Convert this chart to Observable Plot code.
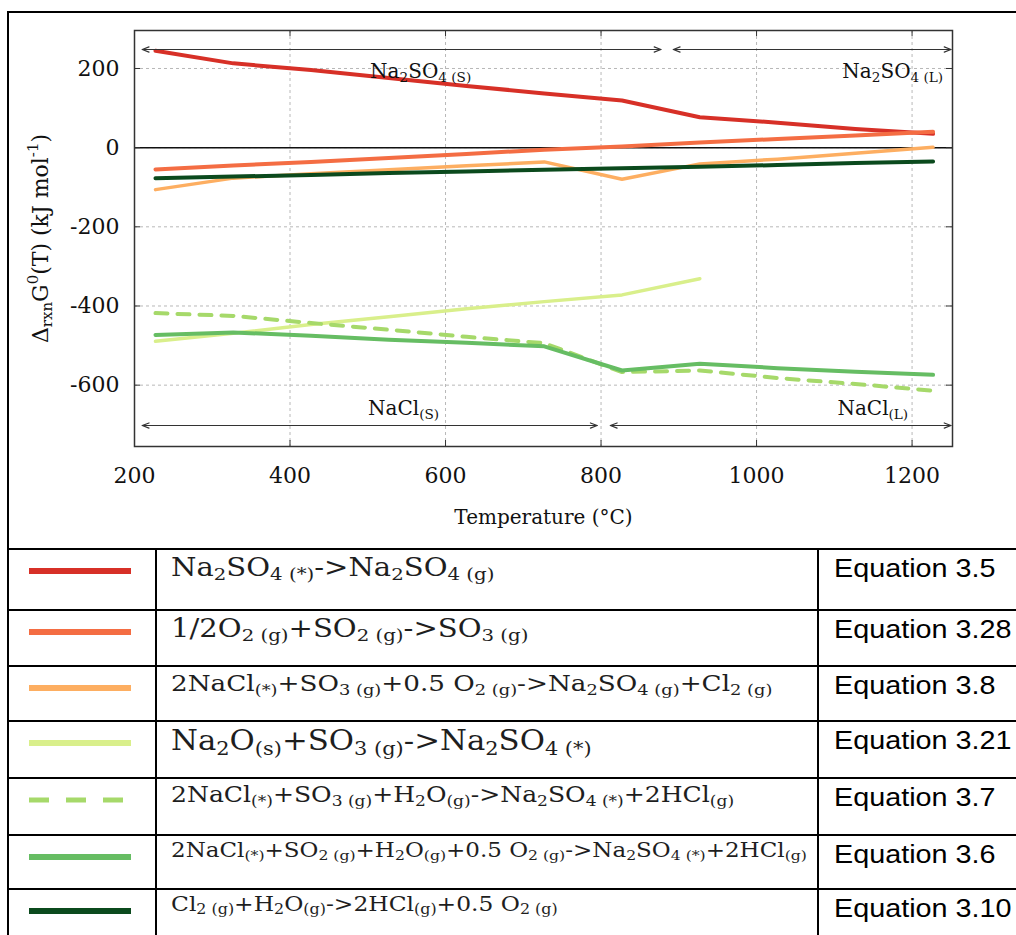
<!DOCTYPE html>
<html>
<head>
<meta charset="utf-8">
<script src="https://cdn.jsdelivr.net/npm/d3@7"></script>
<script src="https://cdn.jsdelivr.net/npm/@observablehq/plot@0.6"></script>
<style>
  body { margin: 0; background: #fff; }
  #page { position: relative; width: 1016px; height: 935px; overflow: hidden; background: #fff; }
  #box { position: absolute; left: 7px; top: 11px; width: 1040px; height: 537px; border: 2px solid #000; border-bottom: none; }
  #chart { position: absolute; left: 0; top: 0; }
  #legend { position: absolute; left: 7px; top: 548px; width: 1060px; border-collapse: collapse; table-layout: fixed; }
  #legend td { border: 2px solid #000; vertical-align: top; padding: 0; }
  #legend td.swatch svg { display: block; margin: 16px 0 0 20px; }
  #legend td.eq { padding: 3px 0 0 14px; font-family: "DejaVu Serif", serif; color: #1e1e1e; white-space: nowrap; line-height: 1.15; }
  #legend td.eq span.txt { display: inline-block; transform: scaleX(1.14); transform-origin: 0 0; }
  #legend td.eq sub { font-size: 0.68em; vertical-align: -0.25em; line-height: 0; }
  #legend td.eq sup { font-size: 0.68em; vertical-align: 0.45em; line-height: 0; }
  #legend td.num { padding: 4px 0 0 15px; font-family: "Liberation Sans", Arial, sans-serif; font-size: 25px; color: #000; white-space: nowrap; line-height: 1.15; }
  #legend td.num span { display: inline-block; transform: scaleX(1.15); transform-origin: 0 0; }
</style>
</head>
<body>
<div id="page">
  <div id="box"></div>
  <div id="chart"></div>
  <table id="legend"></table>
</div>
<script>
// Temperatures (°C) at which the standard Gibbs energies of reaction were evaluated
const temperatureC = [227, 327, 427, 527, 627, 727, 827, 927, 1027, 1127, 1227];

// ΔrxnG°(T), kJ/mol, one array per reaction
const eq3_5  = [245, 213, 196, 176, 156, 137, 119, 77, 63, 47, 35];
const eq3_28 = [-55, -45, -36, -26, -16, -5, 3, 13, 22, 31, 40];
const eq3_8  = [-106, -77, -66, -56, -46, -36, -80, -41, -29, -14, 1];
const eq3_21 = [-489, -469, -447, -427, -407, -389, -372, -331];
const eq3_7  = [-418, -425, -443, -460, -478, -494, -567, -563, -582, -597, -614];
const eq3_6  = [-473, -467, -475, -485, -493, -502, -563, -546, -557, -566, -574];
const eq3_10 = [-77, -73, -69, -64, -60, -56, -52, -48, -44, -39, -35];

// Reaction equations (_{} = subscript) and their numbers, in legend order
const equationLabels = [
  "Na_{2}SO_{4 (*)}->Na_{2}SO_{4 (g)}",
  "1/2O_{2 (g)}+SO_{2 (g)}->SO_{3 (g)}",
  "2NaCl_{(*)}+SO_{3 (g)}+0.5 O_{2 (g)}->Na_{2}SO_{4 (g)}+Cl_{2 (g)}",
  "Na_{2}O_{(s)}+SO_{3 (g)}->Na_{2}SO_{4 (*)}",
  "2NaCl_{(*)}+SO_{3 (g)}+H_{2}O_{(g)}->Na_{2}SO_{4 (*)}+2HCl_{(g)}",
  "2NaCl_{(*)}+SO_{2 (g)}+H_{2}O_{(g)}+0.5 O_{2 (g)}->Na_{2}SO_{4 (*)}+2HCl_{(g)}",
  "Cl_{2 (g)}+H_{2}O_{(g)}->2HCl_{(g)}+0.5 O_{2 (g)}"
];
const equationNumbers = ["Equation 3.5", "Equation 3.28", "Equation 3.8", "Equation 3.21", "Equation 3.7", "Equation 3.6", "Equation 3.10"];
const seriesValues = [eq3_5, eq3_28, eq3_8, eq3_21, eq3_7, eq3_6, eq3_10];

// Phase regions (°C) of Na2SO4 (top) and NaCl (bottom), with their labels
const phaseLabels = ["Na_{2}SO_{4 (S)}", "Na_{2}SO_{4 (L)}", "NaCl_{(S)}", "NaCl_{(L)}"];
const na2so4Ranges = [[210, 877], [893, 1250]];
const naclRanges = [[210, 795], [812, 1250]];

// Axis ticks and titles
const xTicks = [200, 400, 600, 800, 1000, 1200];
const yTicks = [200, 0, -200, -400, -600];
const xTitle = "Temperature (°C)";
const yTitle = "Δ_{rxn}G^{0}(T) (kJ mol^{-1})";

// ---- styling ----
const colors = ["#d73027", "#f46d43", "#fdae61", "#d9ef8b", "#a6d96a", "#66bd63", "#0b4a1d"];
const dashes = [null, null, null, null, "12,10", null, null];
const widths = [4, 4, 3.5, 3.5, 4, 4, 4];
const drawOrder = [3, 4, 5, 2, 6, 0, 1];
const legendFontPx = [25.5, 25.5, 23, 27, 22, 20.2, 20.5];
const legendRowPx = [61, 56, 55, 57, 57, 54, 60];

const xDomain = [200, 1252];
const yDomain = [-755, 296];
const W = 1016, H = 550, mL = 134, mR = 64, mT = 30, mB = 104;
const tickX = 6 * (xDomain[1] - xDomain[0]) / (W - mL - mR);
const tickY = 6 * (yDomain[1] - yDomain[0]) / (H - mT - mB);
const arrowY = {top: 248, bottom: -702};

const lineMarks = drawOrder.map(i => Plot.line(
  seriesValues[i].map((g, j) => ({T: temperatureC[j], G: g})),
  {x: "T", y: "G", stroke: colors[i], strokeWidth: widths[i], strokeDasharray: dashes[i], strokeLinejoin: "round"}
));

// double-headed arrows spanning each phase region
function arrows(ranges, y) {
  const style = {stroke: "#333", strokeWidth: 1.2, headLength: 9, headAngle: 42, bend: 0};
  return [
    Plot.arrow(ranges, {x1: d => d[0], x2: d => d[1], y1: () => y, y2: () => y, ...style}),
    Plot.arrow(ranges, {x1: d => d[1], x2: d => d[0], y1: () => y, y2: () => y, ...style})
  ];
}

const chart = Plot.plot({
  width: W, height: H,
  marginLeft: mL, marginRight: mR, marginTop: mT, marginBottom: mB,
  style: {fontFamily: "'DejaVu Serif', serif", color: "#111", background: "transparent", overflow: "visible"},
  x: {domain: xDomain},
  y: {domain: yDomain},
  marks: [
    Plot.gridX(xTicks, {stroke: "#b8b8b8", strokeOpacity: 1, strokeDasharray: "3,3"}),
    Plot.gridY(yTicks, {stroke: "#b8b8b8", strokeOpacity: 1, strokeDasharray: "3,3"}),
    Plot.ruleY([0], {stroke: "#111", strokeWidth: 1.5}),
    // inward ticks on all four sides
    Plot.ruleX(xTicks, {y1: yDomain[0], y2: yDomain[0] + tickY, stroke: "#333"}),
    Plot.ruleX(xTicks, {y1: yDomain[1], y2: yDomain[1] - tickY, stroke: "#333"}),
    Plot.ruleY(yTicks, {x1: xDomain[0], x2: xDomain[0] + tickX, stroke: "#333"}),
    Plot.ruleY(yTicks, {x1: xDomain[1], x2: xDomain[1] - tickX, stroke: "#333"}),
    Plot.axisX(xTicks, {tickSize: 0, tickPadding: 21, tickFormat: d => String(d), fontSize: 22, label: null}),
    Plot.axisY(yTicks, {tickSize: 0, tickPadding: 15, tickFormat: d => String(d), fontSize: 22, label: null}),
    Plot.text([xTitle], {frameAnchor: "bottom", dy: 71, fontSize: 20, textAnchor: "middle", lineAnchor: "middle"}),
    Plot.text([yTitle], {frameAnchor: "left", dx: -94, rotate: -90, fontSize: 22, textAnchor: "middle", lineAnchor: "middle"}),
    ...lineMarks,
    ...arrows(na2so4Ranges, arrowY.top),
    ...arrows(naclRanges, arrowY.bottom),
    Plot.text([phaseLabels[0]], {x: () => 568, y: () => 192, fontSize: 20, textAnchor: "middle", lineAnchor: "middle"}),
    Plot.text([phaseLabels[1]], {x: () => 1240, y: () => 192, fontSize: 20, textAnchor: "end", lineAnchor: "middle"}),
    Plot.text([phaseLabels[2]], {x: () => 546, y: () => -659, fontSize: 20, textAnchor: "middle", lineAnchor: "middle"}),
    Plot.text([phaseLabels[3]], {x: () => 1195, y: () => -659, fontSize: 20, textAnchor: "end", lineAnchor: "middle"}),
    Plot.frame({stroke: "#333", strokeWidth: 1.5})
  ]
});

// Turn _{..} / ^{..} markup inside SVG text into sub/superscript tspans
const SVGNS = "http://www.w3.org/2000/svg";
function richSvg(el) {
  const src = el.textContent;
  if (!/[_^]\{/.test(src)) return;
  const fs = parseFloat(getComputedStyle(el).fontSize) || 20;
  el.textContent = "";
  const re = /([_^])\{([^}]*)\}|([^_^]+)/g;
  let m, offset = 0;
  while ((m = re.exec(src))) {
    const t = document.createElementNS(SVGNS, "tspan");
    let target = 0;
    if (m[1]) {
      target = m[1] === "_" ? 0.22 * fs : -0.42 * fs;
      t.setAttribute("font-size", (0.68 * fs) + "px");
      t.textContent = m[2];
    } else {
      t.textContent = m[3];
    }
    if (target !== offset) { t.setAttribute("dy", target - offset); offset = target; }
    el.appendChild(t);
  }
}
document.getElementById("chart").appendChild(chart);
d3.select(chart).selectAll("text").each(function () { richSvg(this); });

// Legend table: line swatch, equation, equation number
function richHtml(markup) {
  const frag = document.createDocumentFragment();
  const re = /([_^])\{([^}]*)\}|([^_^]+)/g;
  let m;
  while ((m = re.exec(markup))) {
    if (m[1]) {
      const s = document.createElement(m[1] === "_" ? "sub" : "sup");
      s.textContent = m[2];
      frag.append(s);
    } else frag.append(document.createTextNode(m[3]));
  }
  return frag;
}
const table = d3.select("#legend");
const cg = table.append("colgroup");
cg.append("col").style("width", "148px");
cg.append("col").style("width", "662px");
cg.append("col").style("width", "250px");
equationLabels.forEach((label, i) => {
  const tr = table.append("tr").style("height", legendRowPx[i] + "px");
  const sw = tr.append("td").attr("class", "swatch")
    .append("svg").attr("width", 110).attr("height", 10);
  sw.append("line").attr("x1", 0).attr("x2", 102).attr("y1", 5).attr("y2", 5)
    .attr("stroke", colors[i]).attr("stroke-width", dashes[i] ? 5 : 6)
    .attr("stroke-dasharray", dashes[i] ? "20,17" : null);
  tr.append("td").attr("class", "eq").style("font-size", legendFontPx[i] + "px")
    .append("span").attr("class", "txt").node().appendChild(richHtml(label));
  tr.append("td").attr("class", "num").append("span").text(equationNumbers[i]);
});
</script>
</body>
</html>
